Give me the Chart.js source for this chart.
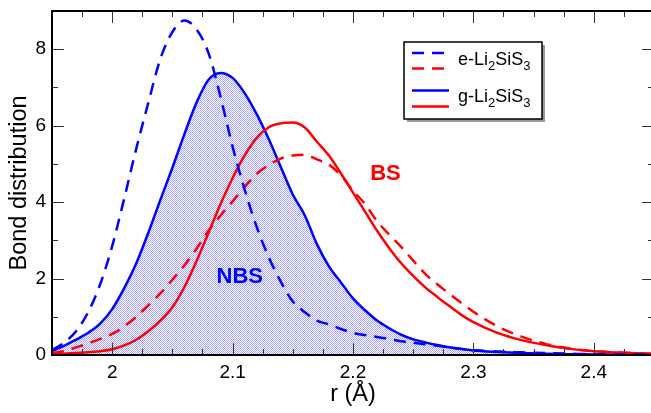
<!DOCTYPE html>
<html>
<head>
<meta charset="utf-8">
<script src="https://cdn.jsdelivr.net/npm/chart.js@4.4.1/dist/chart.umd.min.js"></script>
<style>
  html, body { margin: 0; padding: 0; background: #fff; overflow: hidden; }
  #wrap { position: absolute; left: 0; top: 0; width: 657px; height: 413px; }
</style>
</head>
<body>
<div id="wrap"><canvas id="bond-chart"></canvas></div>
<script>
// bond length grid (Å)
const rValues = [1.95, 1.96, 1.97, 1.98, 1.99, 2.00, 2.01, 2.02, 2.03, 2.04,
  2.05, 2.06, 2.07, 2.08, 2.09, 2.10, 2.11, 2.12, 2.13, 2.14,
  2.15, 2.16, 2.17, 2.18, 2.19, 2.20, 2.21, 2.22, 2.23, 2.24,
  2.25, 2.26, 2.27, 2.28, 2.29, 2.30, 2.32, 2.34, 2.36, 2.38,
  2.40, 2.42, 2.45];

// e-Li2SiS3, non-bridging S (blue dashed)
const eNbs = [0.13, 0.32, 0.62, 1.12, 1.85, 2.85, 4.1, 5.4, 6.6, 7.75,
  8.45, 8.75, 8.52, 7.9, 6.75, 5.45, 4.33, 3.35, 2.56, 1.92,
  1.4, 1.12, 0.9, 0.8, 0.68, 0.58, 0.52, 0.47, 0.42, 0.36,
  0.32, 0.28, 0.24, 0.2, 0.16, 0.13, 0.09, 0.07, 0.05, 0.035,
  0.02, 0.015, 0.01];

// g-Li2SiS3, non-bridging S (blue solid, shaded)
const gNbs = [0.1, 0.24, 0.4, 0.58, 0.82, 1.2, 1.75, 2.4, 3.2, 4.06,
  4.9, 5.78, 6.6, 7.2, 7.38, 7.25, 6.85, 6.3, 5.65, 4.92,
  4.2, 3.65, 2.9, 2.32, 1.9, 1.48, 1.17, 0.9, 0.7, 0.53,
  0.41, 0.33, 0.26, 0.2, 0.16, 0.12, 0.08, 0.05, 0.03, 0.02,
  0.015, 0.01, 0.01];

// e-Li2SiS3, bridging S (red dashed)
const eBs = [0.05, 0.1, 0.2, 0.3, 0.42, 0.55, 0.75, 1.0, 1.3, 1.61,
  1.97, 2.35, 2.78, 3.25, 3.65, 4.02, 4.4, 4.74, 4.97, 5.14,
  5.22, 5.24, 5.12, 4.98, 4.7, 4.3, 3.95, 3.5, 3.15, 2.83,
  2.47, 2.12, 1.85, 1.6, 1.36, 1.13, 0.75, 0.48, 0.29, 0.17,
  0.1, 0.065, 0.03];

// g-Li2SiS3, bridging S (red solid)
const gBs = [0.02, 0.03, 0.05, 0.07, 0.1, 0.15, 0.25, 0.4, 0.62, 0.9,
  1.25, 1.78, 2.45, 3.2, 3.95, 4.63, 5.22, 5.68, 5.96, 6.06,
  6.08, 5.95, 5.58, 5.22, 4.75, 4.25, 3.75, 3.25, 2.8, 2.4,
  2.07, 1.77, 1.52, 1.28, 1.05, 0.86, 0.58, 0.39, 0.26, 0.16,
  0.1, 0.065, 0.03];

const seriesNames = ['e-Li2SiS3', 'g-Li2SiS3'];
const xTicks = [2.0, 2.1, 2.2, 2.3, 2.4];
const yTicks = [0, 2, 4, 6, 8];

const toPoints = (vals) => rValues.map((r, i) => ({ x: r, y: vals[i] }));
const FONT = "'Liberation Sans', Arial, Helvetica, sans-serif";

function dotPattern() {
  const c = document.createElement('canvas');
  c.width = 2; c.height = 2;
  const g = c.getContext('2d');
  g.fillStyle = '#fff';
  g.fillRect(0, 0, 2, 2);
  g.fillStyle = 'rgb(165,165,255)';
  g.fillRect(0, 0, 1, 1);
  g.fillRect(1, 1, 1, 1);
  return g.createPattern(c, 'repeat');
}

// formula text with digits as subscripts
function drawFormula(ctx, text, x, y) {
  let cx = x;
  for (const ch of text) {
    const sub = /\d/.test(ch);
    ctx.font = sub ? `13px ${FONT}` : `18px ${FONT}`;
    ctx.fillText(ch, cx, sub ? y + 6 : y);
    cx += ctx.measureText(ch).width;
  }
}

const framePlugin = {
  id: 'frame',
  afterDraw(chart) {
    const { ctx, chartArea: a, scales: { x, y } } = chart;
    ctx.save();

    // inward ticks on all four sides
    ctx.strokeStyle = '#333';
    ctx.lineWidth = 1;
    const xMinor = [];
    for (let v = 1.975; v < 2.45; v += 0.025) {
      if (Math.abs(v * 10 - Math.round(v * 10)) > 1e-6) xMinor.push(v);
    }
    const yMinor = [1, 3, 5, 7];
    const tickX = (v, len) => {
      const px = Math.round(x.getPixelForValue(v)) + 0.5;
      ctx.beginPath();
      ctx.moveTo(px, a.bottom); ctx.lineTo(px, a.bottom - len);
      ctx.moveTo(px, a.top); ctx.lineTo(px, a.top + len);
      ctx.stroke();
    };
    const tickY = (v, len) => {
      const py = Math.round(y.getPixelForValue(v)) + 0.5;
      ctx.beginPath();
      ctx.moveTo(a.left, py); ctx.lineTo(a.left + len, py);
      ctx.moveTo(a.right, py); ctx.lineTo(a.right - len, py);
      ctx.stroke();
    };
    xTicks.forEach(v => tickX(v, 12));
    xMinor.forEach(v => tickX(v, 6));
    yTicks.forEach(v => tickY(v, 12));
    yMinor.forEach(v => tickY(v, 6));

    // axis box
    ctx.strokeStyle = '#000';
    ctx.lineWidth = 2;
    ctx.strokeRect(a.left, a.top, a.right - a.left, a.bottom - a.top);

    // region labels
    ctx.font = `bold 22px ${FONT}`;
    ctx.textAlign = 'center';
    ctx.textBaseline = 'middle';
    ctx.fillStyle = '#0000ff';
    ctx.fillText('NBS', x.getPixelForValue(2.106), y.getPixelForValue(2.05));
    ctx.fillStyle = '#ff0000';
    ctx.fillText('BS', x.getPixelForValue(2.227), y.getPixelForValue(4.74));

    // legend
    const lx = 404, ly = 42, lw = 138, lh = 77;
    ctx.fillStyle = '#999';
    ctx.fillRect(lx + 3, ly + 3, lw, lh);
    ctx.fillStyle = '#fff';
    ctx.fillRect(lx, ly, lw, lh);
    ctx.strokeStyle = '#000';
    ctx.lineWidth = 1.5;
    ctx.strokeRect(lx, ly, lw, lh);

    const rows = [
      { dash: [12, 8], yb: 53, yr: 68.5, yt: 60, name: seriesNames[0] },
      { dash: [], yb: 90.5, yr: 106.5, yt: 97, name: seriesNames[1] }
    ];
    ctx.lineWidth = 2.5;
    rows.forEach(row => {
      ctx.setLineDash(row.dash);
      ctx.strokeStyle = '#0000ff';
      ctx.beginPath(); ctx.moveTo(412, row.yb); ctx.lineTo(449, row.yb); ctx.stroke();
      ctx.strokeStyle = '#ff0000';
      ctx.beginPath(); ctx.moveTo(412, row.yr); ctx.lineTo(449, row.yr); ctx.stroke();
      ctx.setLineDash([]);
      ctx.fillStyle = '#000';
      ctx.textAlign = 'left';
      ctx.textBaseline = 'middle';
      drawFormula(ctx, row.name, 458, row.yt);
    });

    ctx.restore();
  }
};

const lineSet = (label, vals, color, dashed, extra) => Object.assign({
  label,
  data: toPoints(vals),
  borderColor: color,
  borderWidth: 2.5,
  borderDash: dashed ? [12, 8] : [],
  pointRadius: 0,
  cubicInterpolationMode: 'monotone',
  fill: false
}, extra || {});

const noPad = s => { s.paddingTop = 0; s.paddingBottom = 0; s.paddingLeft = 0; s.paddingRight = 0; };

document.addEventListener('DOMContentLoaded', () => {
  const ctx = document.getElementById('bond-chart').getContext('2d');
  new Chart(ctx, {
    type: 'line',
    data: {
      datasets: [
        lineSet('e NBS', eNbs, '#0000ff', true),
        lineSet('e BS', eBs, '#ff0000', true),
        lineSet('g BS', gBs, '#ff0000', false),
        lineSet('g NBS', gNbs, '#0000ff', false, { fill: 'origin', backgroundColor: dotPattern() })
      ]
    },
    options: {
      responsive: true,
      maintainAspectRatio: false,
      animation: false,
      devicePixelRatio: 1,
      layout: { padding: { top: 11, right: 3, left: 0, bottom: 0 } },
      plugins: { legend: { display: false }, tooltip: { enabled: false } },
      scales: {
        x: {
          type: 'linear',
          min: 1.95,
          max: 2.45,
          grid: { display: false, drawTicks: false },
          border: { display: false },
          afterBuildTicks: s => { s.ticks = xTicks.map(v => ({ value: v })); },
          afterFit: s => { s.height = 58; noPad(s); },
          ticks: {
            padding: 6,
            color: '#000',
            font: { family: FONT, size: 19 },
            maxRotation: 0,
            callback: v => String(+v.toFixed(2))
          },
          title: {
            display: true,
            text: 'r (Å)',
            color: '#000',
            font: { family: FONT, size: 23.5 },
            padding: { top: 0, bottom: 4 }
          }
        },
        y: {
          min: 0,
          max: 9,
          grid: { display: false, drawTicks: false },
          border: { display: false },
          afterBuildTicks: s => { s.ticks = yTicks.map(v => ({ value: v })); },
          afterFit: s => { s.width = 52; noPad(s); },
          ticks: {
            padding: 6,
            color: '#000',
            font: { family: FONT, size: 19 },
            callback: v => String(v)
          },
          title: {
            display: true,
            text: 'Bond distribution',
            color: '#000',
            font: { family: FONT, size: 23.5 },
            padding: { top: 5.5, bottom: 0 }
          }
        }
      }
    },
    plugins: [framePlugin]
  });
});
</script>
</body>
</html>
